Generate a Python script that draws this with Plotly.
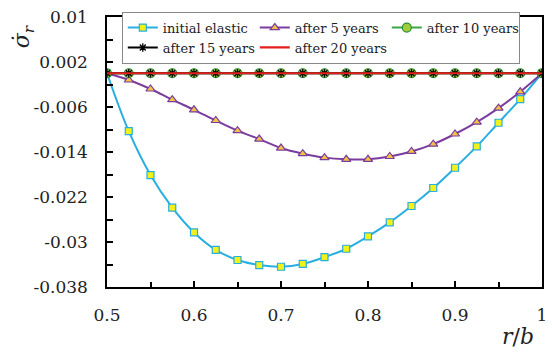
import plotly.graph_objects as go

r_b = [0.5, 0.525, 0.55, 0.575, 0.6, 0.625, 0.65, 0.675, 0.7, 0.725, 0.75,
       0.775, 0.8, 0.825, 0.85, 0.875, 0.9, 0.925, 0.95, 0.975, 1.0]

initial_elastic = [0.0, -0.0103, -0.0181, -0.0239, -0.0283, -0.0314, -0.0332, -0.0341,
                   -0.0344, -0.0339, -0.0327, -0.0312, -0.0290, -0.0265, -0.0236,
                   -0.0204, -0.0168, -0.0130, -0.0088, -0.0046, 0.0]
after_5 = [0.0, -0.0012, -0.0028, -0.0047, -0.0065, -0.0084, -0.0102, -0.0117,
           -0.0133, -0.0143, -0.0150, -0.0153, -0.0153, -0.0148, -0.0139,
           -0.0126, -0.0108, -0.0087, -0.0062, -0.0033, 0.0]
after_10 = [0.0] * 21
after_15 = [0.0] * 21
after_20 = [0.0] * 21

y_ticks = [0.01, 0.002, -0.006, -0.014, -0.022, -0.03, -0.038]
y_ticktext = ["0.01", "0.002", "-0.006", "-0.014", "-0.022", "-0.03", "-0.038"]
x_ticks = [0.5, 0.6, 0.7, 0.8, 0.9, 1.0]
x_ticktext = ["0.5", "0.6", "0.7", "0.8", "0.9", "1"]

serif = "DejaVu Serif"

fig = go.Figure()
fig.add_trace(go.Scatter(
    x=r_b, y=initial_elastic, name="initial elastic", mode="lines+markers",
    line=dict(color="#29aee0", width=2, shape="spline"),
    marker=dict(symbol="square", size=7, color="#f2f21a", line=dict(color="#29aee0", width=1.2))))
fig.add_trace(go.Scatter(
    x=r_b, y=after_5, name="after 5 years", mode="lines+markers",
    line=dict(color="#7a3c9e", width=2, shape="spline"),
    marker=dict(symbol="triangle-up", size=8, color="#f2c244", line=dict(color="#7a3c9e", width=1.2))))
fig.add_trace(go.Scatter(
    x=r_b, y=after_10, name="after 10 years", mode="lines+markers",
    line=dict(color="#3aa64a", width=2, shape="spline"),
    marker=dict(symbol="circle", size=9, color="#9ccf3a", line=dict(color="#2e8b3a", width=1.2))))
fig.add_trace(go.Scatter(
    x=r_b, y=after_15, name="after 15 years", mode="lines+markers",
    line=dict(color="#000000", width=2, shape="spline"),
    marker=dict(symbol="asterisk", size=7, color="#000000", line=dict(color="#000000", width=1.3))))
fig.add_trace(go.Scatter(
    x=r_b, y=after_20, name="after 20 years", mode="lines",
    line=dict(color="#e3201c", width=2.2, shape="spline")))

fig.update_layout(
    width=552, height=353,
    margin=dict(l=107, r=5, t=17, b=66),
    paper_bgcolor="white", plot_bgcolor="white",
    font=dict(family=serif, size=17, color="#222222"),
    showlegend=True,
    legend=dict(
        orientation="h", x=0.034, y=1.02, xanchor="left", yanchor="top",
        bgcolor="white", bordercolor="#888888", borderwidth=1,
        font=dict(family=serif, size=13, color="#222222"),
        entrywidth=87, entrywidthmode="pixels",
        tracegroupgap=0, itemwidth=30,
    ),
)
fig.update_xaxes(
    range=[0.5, 1.0], tickvals=x_ticks, ticktext=x_ticktext,
    showline=True, linecolor="black", linewidth=1.5, mirror=True,
    ticks="inside", ticklen=6, tickwidth=1.5, tickcolor="black",
    minor=dict(ticks="inside", ticklen=5, tickwidth=1.5, tickcolor="black", dtick=0.05),
    showgrid=False, zeroline=False, ticklabelstandoff=12,
    tickfont=dict(family=serif, size=17),
)
fig.update_yaxes(
    range=[-0.038, 0.01], tickvals=y_ticks, ticktext=y_ticktext,
    showline=True, linecolor="black", linewidth=1.5, mirror=True,
    ticks="inside", ticklen=6, tickwidth=1.5, tickcolor="black",
    minor=dict(ticks="inside", ticklen=6, tickwidth=1.5, tickcolor="black",
               tickvals=[0.006, -0.002, -0.01, -0.018, -0.026, -0.034]),
    showgrid=False, zeroline=False, ticklabelstandoff=14,
    tickfont=dict(family=serif, size=17),
)
fig.add_annotation(
    text="<i>σ̇<sub>r</sub></i>", xref="paper", yref="paper",
    x=-0.19, y=0.93, xanchor="center", yanchor="middle", textangle=-90, showarrow=False,
    font=dict(family=serif, size=22, color="#222222"))
fig.add_annotation(
    text="<i>r</i>/<i>b</i>", xref="paper", yref="paper",
    x=0.945, y=-0.185, xanchor="center", yanchor="middle", showarrow=False,
    font=dict(family=serif, size=22, color="#222222"))

fig.write_html("out.html")
